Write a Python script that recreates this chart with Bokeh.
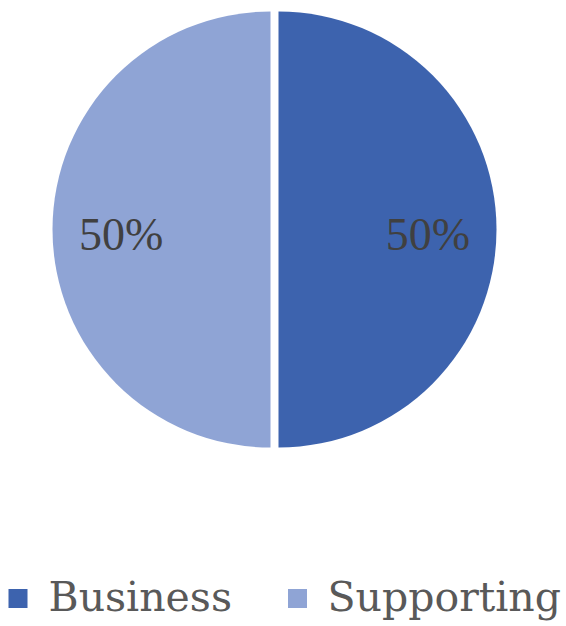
import math

from bokeh.core.properties import value
from bokeh.embed import file_html
from bokeh.models import ColumnDataSource, Range1d
from bokeh.plotting import figure
from bokeh.resources import INLINE

# Share of activities by type
categories = ["Business", "Supporting"]
shares = [50, 50]
colors = ["#3D63AE", "#8FA4D5"]

W, H = 566, 626

p = figure(width=W, height=H, x_range=Range1d(0, W), y_range=Range1d(0, H),
           x_axis_type=None, y_axis_type=None,
           output_backend="svg", toolbar_location=None, min_border=0)
p.grid.visible = False
p.outline_line_color = None
p.background_fill_color = "white"
p.border_fill_color = "white"

# pie geometry (1 data unit == 1 px)
cx, cy, r = 274, 397, 218
explode = 4
label_frac = 0.685

total = float(sum(shares))
angle = math.pi / 2  # start at 12 o'clock, go clockwise
xs, ys, starts, ends, lx, ly, texts = [], [], [], [], [], [], []
for v in shares:
    sweep = 2 * math.pi * v / total
    a0, a1 = angle - sweep, angle
    mid = (a0 + a1) / 2
    ox, oy = cx + explode * math.cos(mid), cy + explode * math.sin(mid)
    xs.append(ox)
    ys.append(oy)
    starts.append(a0)
    ends.append(a1)
    lx.append(ox + label_frac * r * math.cos(mid))
    ly.append(oy + label_frac * r * math.sin(mid) - 5)
    texts.append(f"{v}%")
    angle = a0

src = ColumnDataSource(dict(x=xs, y=ys, start=starts, end=ends, color=colors,
                            lx=lx, ly=ly, text=texts))

p.wedge(x="x", y="y", radius=r, radius_units="screen",
        start_angle="start", end_angle="end",
        fill_color="color", line_color=None, source=src)

p.text(x="lx", y="ly", text="text", source=src,
       text_font=value("Liberation Serif"), text_font_size="46px",
       text_color="#404040", text_align="center", text_baseline="middle")

# legend row along the bottom
leg_sq_x = [17.5, 297]
leg_tx_x = [48, 327]
leg = ColumnDataSource(dict(sx=leg_sq_x, tx=leg_tx_x, color=colors, label=categories))
p.rect(x="sx", y=28, width=19, height=19, fill_color="color", line_color=None, source=leg)
p.text(x="tx", y=30, text="label", source=leg,
       text_font=value("DejaVu Serif"), text_font_size="41px",
       text_color="#595959", text_align="left", text_baseline="middle")

open("out.html", "w").write(file_html(p, INLINE))
